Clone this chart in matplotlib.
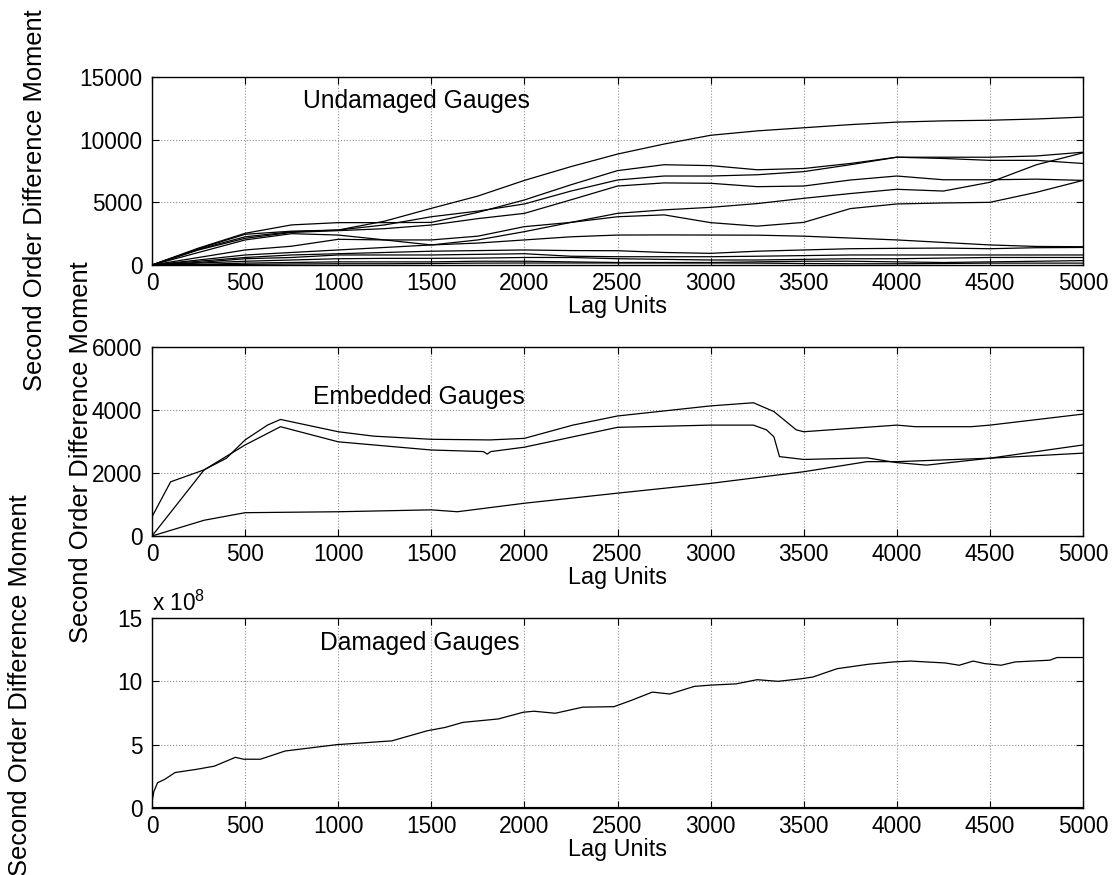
import matplotlib
matplotlib.use("Agg")
import matplotlib.pyplot as plt

plt.rcParams["font.family"] = ["Liberation Sans", "DejaVu Sans"]
plt.rcParams["mathtext.default"] = "regular"

# undamaged gauges, sampled every 250 lag units
lag = [0, 250, 500, 750, 1000, 1250, 1500, 1750, 2000, 2250, 2500,
       2750, 3000, 3250, 3500, 3750, 4000, 4250, 4500, 4750, 5000]
undamaged = [
    [0, 1300, 2450, 2700, 2790, 3500, 4520, 5500, 6750, 7850, 8850, 9650, 10350, 10700, 10950, 11200, 11400, 11500, 11550, 11650, 11800],
    [0, 1350, 2530, 3200, 3380, 3380, 3400, 4200, 5190, 6400, 7530, 8000, 7930, 7600, 7700, 8100, 8600, 8500, 8350, 8350, 8100],
    [0, 1250, 2250, 2650, 2790, 3200, 3850, 4300, 4870, 5900, 6780, 7100, 7100, 7200, 7450, 8000, 8600, 8600, 8600, 8700, 9000],
    [0, 1200, 2130, 2600, 2740, 2900, 3190, 3700, 4120, 5200, 6300, 6550, 6520, 6250, 6300, 6780, 7100, 6800, 6800, 6850, 6750],
    [0, 1000, 2000, 2500, 2390, 2000, 1600, 2000, 2660, 3400, 4120, 4400, 4600, 4900, 5320, 5700, 6040, 5900, 6600, 8000, 8950],
    [0, 600, 1200, 1500, 2050, 2000, 2000, 2300, 3060, 3400, 3850, 4000, 3380, 3100, 3400, 4500, 4870, 4950, 5000, 5800, 6750],
    [0, 400, 800, 1000, 1200, 1400, 1600, 1750, 2000, 2250, 2390, 2400, 2390, 2380, 2300, 2150, 2000, 1800, 1600, 1480, 1460],
    [0, 300, 600, 800, 900, 1000, 1100, 1150, 1200, 1150, 1140, 1000, 930, 1100, 1200, 1300, 1330, 1350, 1300, 1380, 1400],
    [0, 200, 500, 600, 800, 800, 800, 850, 900, 700, 660, 660, 660, 700, 750, 800, 800, 800, 800, 800, 800],
    [0, 150, 300, 400, 500, 530, 530, 550, 600, 600, 500, 450, 400, 400, 450, 500, 500, 550, 600, 600, 600],
    [0, 50, 150, 200, 250, 250, 250, 300, 300, 250, 200, 200, 200, 250, 300, 300, 250, 200, 250, 300, 350],
    [0, 20, 50, 80, 100, 100, 120, 150, 160, 160, 160, 160, 160, 150, 120, 100, 100, 120, 150, 150, 150],
]

# embedded gauges
emb1_x = [0, 100, 280, 400, 500, 620, 690, 1000, 1190, 1500, 1815, 2000, 2260, 2500, 3000, 3230, 3340, 3460, 3500, 4000, 4100, 4400, 4500, 5000]
emb1_y = [610, 1720, 2100, 2470, 3050, 3520, 3700, 3310, 3170, 3070, 3050, 3100, 3520, 3810, 4130, 4230, 3950, 3370, 3310, 3520, 3470, 3470, 3520, 3870]
emb2_x = [0, 280, 500, 690, 1000, 1500, 1780, 1800, 1820, 2000, 2500, 3000, 3230, 3300, 3340, 3370, 3500, 3840, 4000, 4160, 4500, 5000]
emb2_y = [0, 2100, 2890, 3470, 2990, 2730, 2680, 2600, 2680, 2820, 3450, 3520, 3520, 3370, 3150, 2520, 2430, 2480, 2330, 2250, 2470, 2630]
emb3_x = [0, 280, 500, 1000, 1500, 1640, 2000, 2500, 3000, 3500, 3840, 4000, 4500, 5000]
emb3_y = [0, 500, 740, 770, 830, 770, 1040, 1360, 1670, 2040, 2360, 2360, 2470, 2890]

# damaged gauges (x 1e8)
dmg_x = [0, 10, 30, 67, 124, 238, 334, 448, 492, 582, 715, 992, 1288, 1479, 1574, 1670, 1860, 1994, 2051, 2166,
         2313, 2481, 2575, 2687, 2781, 2912, 3000, 3137, 3250, 3362, 3485, 3549, 3680, 3848, 3980, 4073, 4260,
         4335, 4410, 4472, 4560, 4635, 4822, 4860, 5000]
dmg_e8 = [0.5, 1.3, 2.0, 2.25, 2.8, 3.05, 3.3, 4.0, 3.85, 3.85, 4.5, 5.0, 5.3, 6.1, 6.36, 6.76, 7.03, 7.56, 7.64, 7.48,
          7.96, 8.0, 8.5, 9.15, 9.0, 9.6, 9.7, 9.8, 10.13, 10.0, 10.2, 10.34, 11.0, 11.35, 11.53, 11.6, 11.45,
          11.27, 11.6, 11.4, 11.27, 11.53, 11.67, 11.88, 11.88]
dmg_small_x = [0, 5000]
dmg_small_e8 = [0.0, 0.0]

W, H = 1115, 875
fig = plt.figure(figsize=(W / 100, H / 100), dpi=100)

fs_tick = 16.3
fs_xlab = 16.8
fs_note = 17.7
fs_ylab = 18.4

left, width = 152 / W, (1083 - 152) / W
ax1 = fig.add_axes([left, 1 - 265 / H, width, 188 / H])
ax2 = fig.add_axes([left, 1 - 536 / H, width, 189 / H])
ax3 = fig.add_axes([left, 1 - 808 / H, width, 190 / H])

for row in undamaged:
    ax1.plot(lag, row, color="black", lw=0.9)
ax1.set_ylim(0, 15000)
ax1.set_yticks([0, 5000, 10000, 15000])
ax1.text(811, 13100, "Undamaged Gauges", fontsize=fs_note, va="center")

ax2.plot(emb1_x, emb1_y, color="black", lw=0.9)
ax2.plot(emb2_x, emb2_y, color="black", lw=0.9)
ax2.plot(emb3_x, emb3_y, color="black", lw=0.9)
ax2.set_ylim(0, 6000)
ax2.set_yticks([0, 2000, 4000, 6000])
ax2.text(865, 4410, "Embedded Gauges", fontsize=fs_note, va="center")

ax3.plot(dmg_x, dmg_e8, color="black", lw=0.9)
for k in range(3):
    ax3.plot(dmg_small_x, dmg_small_e8, color="black", lw=2.2)
ax3.set_ylim(0, 15)
ax3.set_yticks([0, 5, 10, 15])
ax3.text(902, 13.0, "Damaged Gauges", fontsize=fs_note, va="center")
ax3.text(0, 1.01, "x 10$^{8}$", transform=ax3.transAxes, fontsize=fs_tick, va="bottom")

for ax in (ax1, ax2, ax3):
    ax.set_xlim(0, 5000)
    ax.set_xticks(range(0, 5001, 500))
    ax.grid(True, linestyle=":", color="#909090", lw=0.8)
    ax.tick_params(direction="in", top=True, right=True, length=5,
                   labelsize=fs_tick, pad=5)
    ax.tick_params(axis="y", pad=7)
    for s in ax.spines.values():
        s.set_linewidth(1.0)
    ax.set_xlabel("Lag Units", fontsize=fs_xlab, labelpad=0)

ylab = "Second Order Difference Moment"
fig.text(35 / W, 1 - 200 / H, ylab, rotation=90, fontsize=fs_ylab, ha="center", va="center")
fig.text(81 / W, 1 - 452 / H, ylab, rotation=90, fontsize=fs_ylab, ha="center", va="center")
fig.text(20 / W, 1 - 685 / H, ylab, rotation=90, fontsize=fs_ylab, ha="center", va="center")

fig.savefig("out.png", dpi=100)
